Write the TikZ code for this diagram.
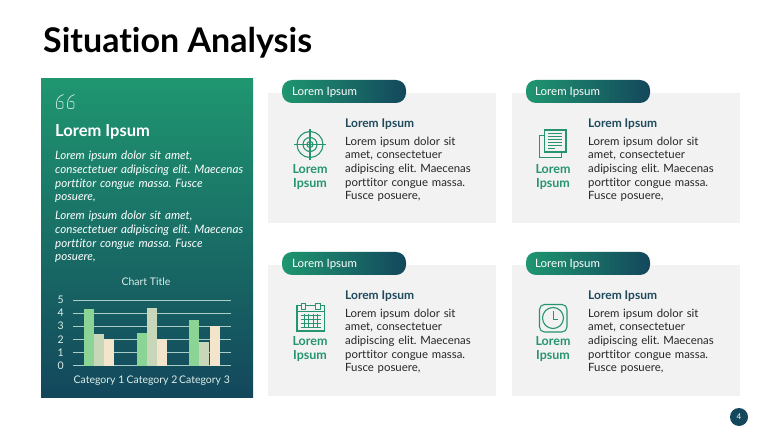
\documentclass[tikz,border=0pt]{standalone}
\usepackage{fontspec}
\setmainfont[Ligatures=NoCommon]{Lato}
\usepackage{xcolor}
\usepackage{tikz}
\usetikzlibrary{positioning}
\frenchspacing

\definecolor{bandgreen}{RGB}{31,150,112}
\definecolor{banddark}{RGB}{19,71,92}
\definecolor{cardgray}{RGB}{242,242,242}
\definecolor{iconcol}{RGB}{38,148,112}
\definecolor{headcol}{RGB}{30,74,92}
\definecolor{bodycol}{RGB}{38,38,38}
\definecolor{barone}{RGB}{140,212,150}
\definecolor{bartwo}{RGB}{200,214,186}
\definecolor{barthree}{RGB}{243,228,204}
\definecolor{gridcol}{RGB}{170,205,200}

\tikzset{
  cardbox/.style={fill=cardgray, minimum width=228pt, minimum height=130pt, inner sep=0pt},
  pillbox/.style={minimum width=124pt, minimum height=23pt, inner sep=0pt, rounded corners=10pt,
    left color=bandgreen, right color=banddark, shading angle=90},
  pilltext/.style={text=white, font=\fontsize{11.5}{13}\selectfont, inner sep=0pt},
  headtext/.style={text=headcol, font=\fontsize{12}{13}\selectfont\bfseries, inner sep=0pt},
  bodytext/.style={text=bodycol, font=\fontsize{11.4}{13.7}\selectfont, align=left, text width=150pt, inner sep=0pt},
  icontext/.style={text=iconcol, font=\fontsize{12.5}{13.6}\selectfont\bfseries, align=center, inner sep=0pt},
  sidetext/.style={text=white, font=\fontsize{11.6}{13.7}\selectfont\itshape, align=left, text width=196pt, inner sep=0pt},
  charttext/.style={text=white!85!bandgreen, font=\fontsize{10.5}{12}\selectfont, inner sep=0pt},
  iconline/.style={draw=iconcol, line width=1.1pt},
  iconthin/.style={draw=iconcol, line width=0.7pt},
}

\begin{document}
\begin{tikzpicture}[x=1pt, y=-1pt]
  \useasboundingbox (0,0) rectangle (779,438);
  \fill[white] (0,0) rectangle (779,438);

  \node[anchor=base west, inner sep=0pt, font=\fontsize{34}{36}\selectfont\bfseries] (title) at (43,52.5) {Situation Analysis};

  % left panel
  \node[minimum width=212pt, minimum height=318pt, inner sep=0pt, top color=bandgreen, bottom color=banddark] (side) at (147,238) {};
  \node[anchor=base west, inner sep=0pt, text=white, font=\fontsize{16.5}{18}\selectfont\bfseries] (sidehead) at (55,137) {Lorem Ipsum};
  \node[sidetext, anchor=north west] (sideA) at (55,151) {Lorem ipsum dolor sit amet,\\consectetuer adipiscing elit. Maecenas\\porttitor congue massa. Fusce\\posuere,};
  \node[sidetext, below=8pt of sideA] (sideB) {Lorem ipsum dolor sit amet,\\consectetuer adipiscing elit. Maecenas\\porttitor congue massa. Fusce\\posuere,};

  % quote mark
  \foreach \qx in {0,11} {
    \draw[white!70!bandgreen, line width=0.8pt, line join=round, xshift=\qx pt]
      (63.5,94.5) .. controls (59,96) and (56.5,99) .. (56.5,103.5) -- (56.5,106.5)
      .. controls (56.5,108) and (57,108.5) .. (58.5,108.5) -- (61,108.5)
      .. controls (62.5,108.5) and (63,108) .. (63,106.5) -- (63,103.5)
      .. controls (63,102) and (62.5,101.5) .. (61,101.5) -- (58.5,101.5);
  }

  % chart
  \node[charttext] (charthead) at (146,282) {Chart Title};
  \foreach \val in {0,...,5} {
    \draw[gridcol, line width=0.7pt] (73,365.5-13.1*\val) -- (231,365.5-13.1*\val);
    \node[charttext, anchor=east] (tick\val) at (64,365.5-13.1*\val) {\val};
  }
  \foreach \bx/\bw/\bc in {84/4.3/barone, 94/2.4/bartwo, 104/2/barthree,
                           136.5/2.5/barone, 146.5/4.4/bartwo, 157/2/barthree,
                           189/3.5/barone, 199/1.8/bartwo, 209.5/3/barthree} {
    \fill[\bc] (\bx,365.5) rectangle (\bx+10.2,365.5-13.1*\bw);
  }
  \node[charttext] (catA) at (99,380.5) {Category 1};
  \node[charttext] (catB) at (152,380.5) {Category 2};
  \node[charttext] (catC) at (204.5,380.5) {Category 3};

  % cards
  \node[cardbox] (P1) at (382,158) {};
  \node[cardbox] (P2) at (626,158) {};
  \node[cardbox] (P3) at (382,330.5) {};
  \node[cardbox] (P4) at (626,330.5) {};

  \node[pillbox] (A1) at (344,91.5) {};
  \node[pillbox] (A2) at (588,91.5) {};
  \node[pillbox] (A3) at (344,263.5) {};
  \node[pillbox] (A4) at (588,263.5) {};

  \node[pilltext, anchor=west] (T1) at (292,92) {Lorem Ipsum};
  \node[pilltext, anchor=west] (T2) at (535,92) {Lorem Ipsum};
  \node[pilltext, anchor=west] (T3) at (292,264) {Lorem Ipsum};
  \node[pilltext, anchor=west] (T4) at (535,264) {Lorem Ipsum};

  \node[headtext, anchor=west] (H1) at (345,124.5) {Lorem Ipsum};
  \node[headtext, anchor=west] (H2) at (588,124.5) {Lorem Ipsum};
  \node[headtext, anchor=west] (H3) at (345,296.5) {Lorem Ipsum};
  \node[headtext, anchor=west] (H4) at (588,296.5) {Lorem Ipsum};

  \node[bodytext, below right=6.5pt and 0pt of H1.south west] (B1) {Lorem ipsum dolor sit\\amet, consectetuer\\adipiscing elit. Maecenas\\porttitor congue massa.\\Fusce posuere,};
  \node[bodytext, below right=6.5pt and 0pt of H2.south west] (B2) {Lorem ipsum dolor sit\\amet, consectetuer\\adipiscing elit. Maecenas\\porttitor congue massa.\\Fusce posuere,};
  \node[bodytext, below right=6.5pt and 0pt of H3.south west] (B3) {Lorem ipsum dolor sit\\amet, consectetuer\\adipiscing elit. Maecenas\\porttitor congue massa.\\Fusce posuere,};
  \node[bodytext, below right=6.5pt and 0pt of H4.south west] (B4) {Lorem ipsum dolor sit\\amet, consectetuer\\adipiscing elit. Maecenas\\porttitor congue massa.\\Fusce posuere,};

  \node[icontext] (L1) at (310,177) {Lorem\\Ipsum};
  \node[icontext] (L2) at (553,177) {Lorem\\Ipsum};
  \node[icontext] (L3) at (310,349) {Lorem\\Ipsum};
  \node[icontext] (L4) at (553,349) {Lorem\\Ipsum};

  % target icon
  \draw[iconline] (310,144.5) circle (13) (310,144.5) circle (7) (310,144.5) circle (3);
  \draw[iconline] (310,129) -- (310,160) (294,144.5) -- (326,144.5);

  % document icon
  \draw[iconthin] (544.5,135) -- (539,135) -- (539,157) -- (561,157) -- (561,152);
  \draw[iconline] (544.5,130) rectangle (566,152);
  \foreach \ly in {134,137,140,143,146} {
    \draw[iconthin, line width=1pt] (548,\ly) -- (562,\ly);
  }
  \draw[iconthin, line width=1pt] (548,149) -- (555,149);

  % calendar icon
  \draw[iconline] (297,305.5) rectangle (324.5,331);
  \draw[iconthin] (297,311.5) -- (324.5,311.5);
  \draw[iconthin, fill=cardgray] (301,303) rectangle (305.5,309) (315.5,303) rectangle (320,309);
  \foreach \ly in {315,319,323,327} {
    \draw[iconthin] (300.5,\ly) -- (321,\ly);
  }
  \foreach \lx in {304,308.5,313,317.5} {
    \draw[iconthin] (\lx,314) -- (\lx,328);
  }

  % clock icon
  \draw[iconline, rounded corners=5pt] (539.5,304.5) rectangle (567,332);
  \draw[iconline] (553,318) circle (10.5);
  \draw[iconthin, line width=0.9pt] (553,311.5) -- (553,319.5) -- (558,319.5);

  % page number
  \node[circle, fill=banddark, minimum size=18pt, inner sep=0pt, text=white, font=\fontsize{8}{9}\selectfont] (page) at (739,417) {4};
\end{tikzpicture}
\end{document}
